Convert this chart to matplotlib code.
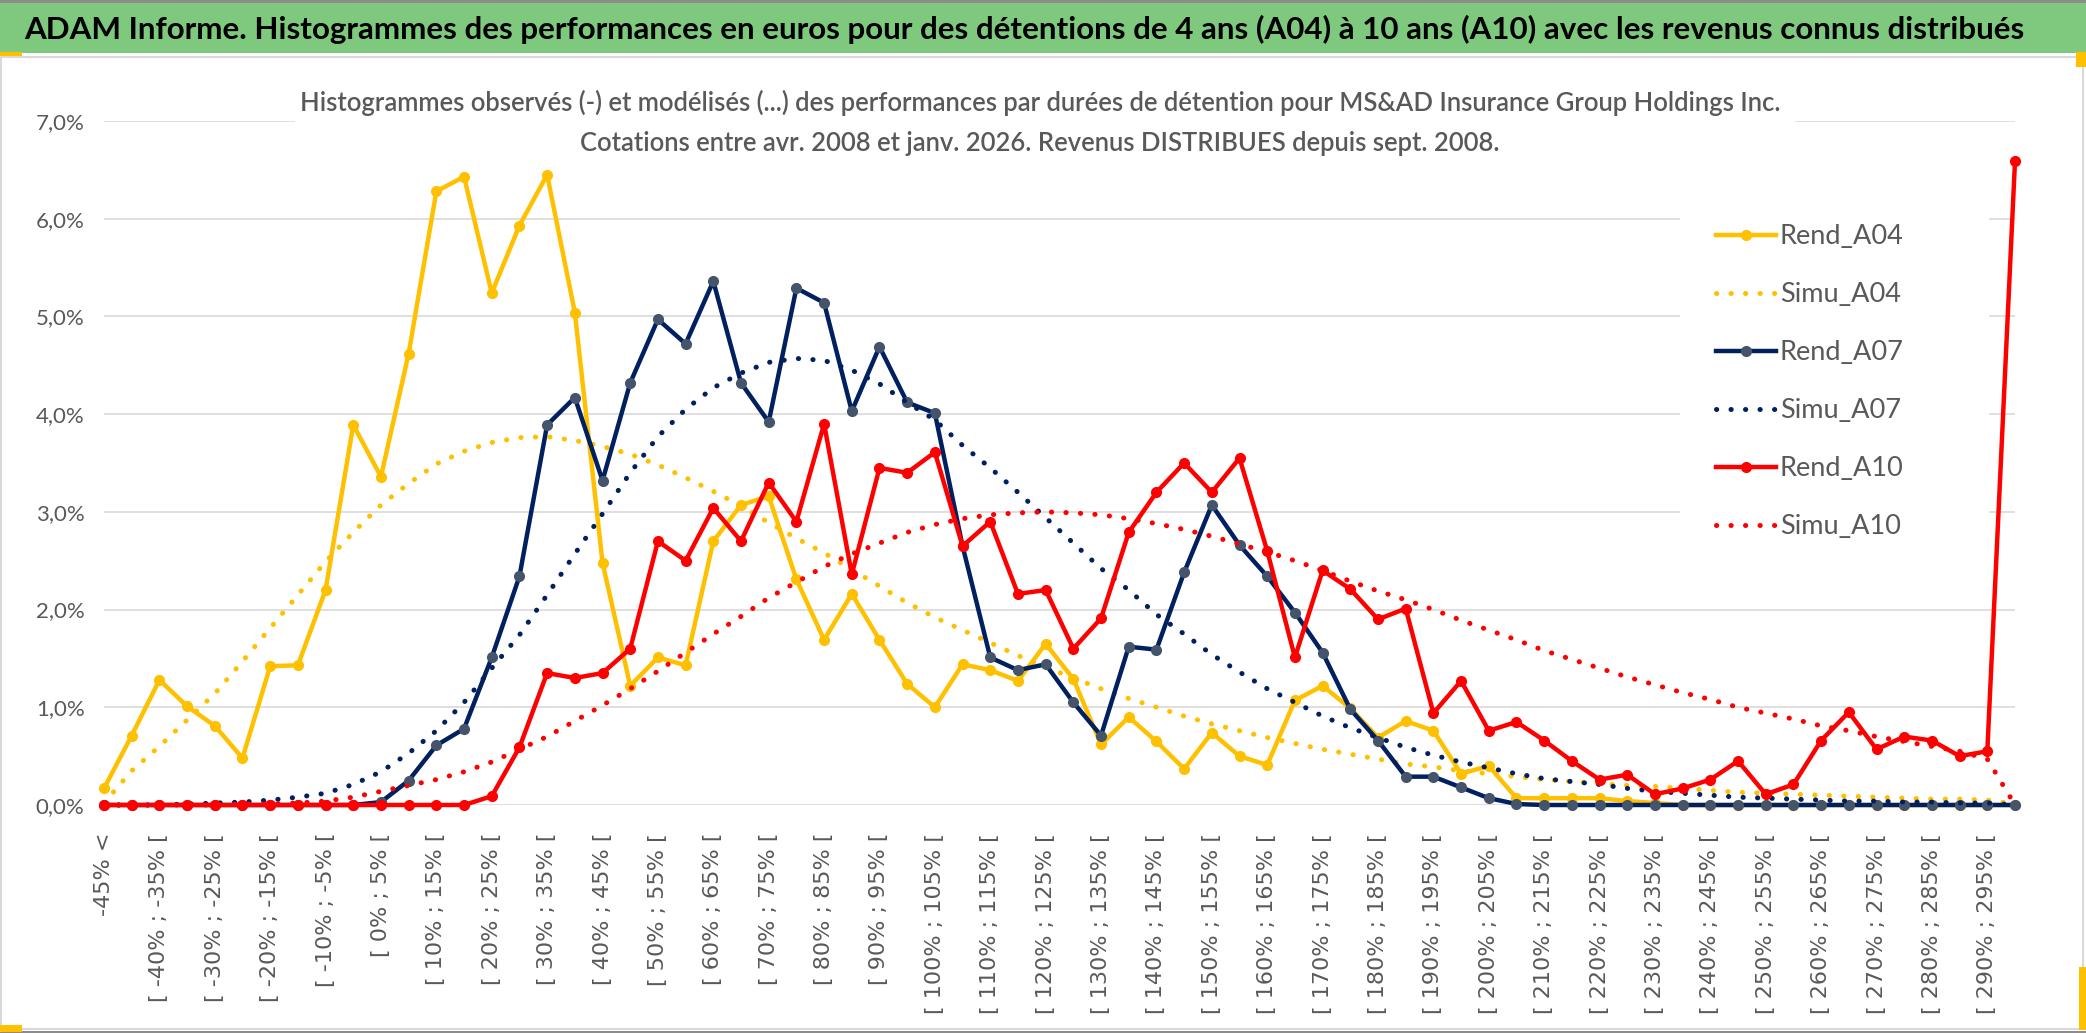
import numpy as np
import matplotlib
matplotlib.use('Agg')
import matplotlib.pyplot as plt
from matplotlib.patches import Rectangle

plt.rcParams['font.family'] = ['Lato', 'DejaVu Sans']

# categories : -45% < , [ -45% ; -40% [ ... [ 290% ; 295% [ , > 295%
bins_low = list(range(-45, 295, 5))
categories = ['-45% <'] + [f'[ {a}% ; {a + 5}% [' for a in bins_low] + ['> 295%']

# observed histograms (%)
rend_a04 = [0.17, 0.71, 1.28, 1.01, 0.81, 0.48, 1.42, 1.43, 2.20, 3.89,
            3.36, 4.62, 6.28, 6.43, 5.24, 5.93, 6.45, 5.04, 2.48, 1.22,
            1.51, 1.43, 2.70, 3.07, 3.16, 2.31, 1.69, 2.16, 1.69, 1.24,
            1.00, 1.44, 1.38, 1.27, 1.65, 1.29, 0.62, 0.90, 0.65, 0.37,
            0.74, 0.50, 0.41, 1.07, 1.22, 0.99, 0.69, 0.86, 0.76, 0.32,
            0.40, 0.07, 0.07, 0.07, 0.07, 0.04, 0.02, 0, 0, 0,
            0, 0, 0, 0, 0, 0, 0, 0, 0, 0]
rend_a07 = [0, 0, 0, 0, 0, 0, 0, 0, 0, 0,
            0.03, 0.25, 0.61, 0.78, 1.51, 2.34, 3.89, 4.17, 3.32, 4.32,
            4.97, 4.72, 5.36, 4.32, 3.92, 5.29, 5.14, 4.03, 4.69, 4.12,
            4.01, 2.65, 1.51, 1.38, 1.44, 1.05, 0.71, 1.62, 1.59, 2.38,
            3.07, 2.66, 2.34, 1.97, 1.56, 0.98, 0.66, 0.29, 0.29, 0.18,
            0.07, 0.01, 0, 0, 0, 0, 0, 0, 0, 0,
            0, 0, 0, 0, 0, 0, 0, 0, 0, 0]
rend_a10 = [0, 0, 0, 0, 0, 0, 0, 0, 0, 0,
            0, 0, 0, 0, 0.09, 0.59, 1.35, 1.30, 1.35, 1.60,
            2.70, 2.50, 3.04, 2.70, 3.30, 2.90, 3.90, 2.36, 3.45, 3.40,
            3.61, 2.65, 2.90, 2.16, 2.20, 1.60, 1.91, 2.79, 3.20, 3.50,
            3.20, 3.55, 2.60, 1.51, 2.40, 2.21, 1.90, 2.01, 0.94, 1.27,
            0.76, 0.85, 0.66, 0.45, 0.26, 0.31, 0.11, 0.17, 0.26, 0.45,
            0.11, 0.21, 0.66, 0.95, 0.57, 0.70, 0.66, 0.50, 0.55, 6.59]

# modelled histograms (%)
simu_a04 = [0.02, 0.35, 0.60, 0.87, 1.14, 1.47, 1.81, 2.15, 2.49, 2.79,
            3.07, 3.29, 3.49, 3.62, 3.71, 3.76, 3.77, 3.73, 3.67, 3.59,
            3.48, 3.35, 3.21, 3.06, 2.89, 2.73, 2.58, 2.41, 2.24, 2.07,
            1.92, 1.79, 1.66, 1.53, 1.41, 1.30, 1.19, 1.09, 1.00, 0.91,
            0.83, 0.76, 0.69, 0.63, 0.57, 0.52, 0.47, 0.42, 0.39, 0.35,
            0.32, 0.29, 0.26, 0.24, 0.22, 0.20, 0.19, 0.17, 0.15, 0.13,
            0.12, 0.11, 0.10, 0.09, 0.08, 0.07, 0.06, 0.06, 0.05, 0.01]
simu_a07 = [0, 0, 0, 0.01, 0.02, 0.03, 0.05, 0.08, 0.12, 0.21,
            0.34, 0.53, 0.76, 1.05, 1.40, 1.74, 2.15, 2.57, 2.98, 3.40,
            3.77, 4.05, 4.27, 4.42, 4.53, 4.57, 4.55, 4.45, 4.31, 4.12,
            3.94, 3.68, 3.45, 3.20, 2.94, 2.68, 2.42, 2.20, 1.95, 1.75,
            1.54, 1.36, 1.19, 1.05, 0.91, 0.79, 0.69, 0.59, 0.51, 0.44,
            0.38, 0.32, 0.27, 0.24, 0.21, 0.17, 0.14, 0.12, 0.10, 0.08,
            0.07, 0.06, 0.05, 0.04, 0.04, 0.03, 0.03, 0.02, 0.02, 0]
simu_a10 = [0, 0, 0, 0, 0, 0.01, 0.01, 0.02, 0.04, 0.08,
            0.14, 0.20, 0.26, 0.34, 0.44, 0.57, 0.70, 0.86, 1.02, 1.19,
            1.37, 1.56, 1.75, 1.93, 2.12, 2.28, 2.44, 2.57, 2.68, 2.79,
            2.87, 2.93, 2.97, 2.99, 3.00, 2.99, 2.97, 2.93, 2.88, 2.82,
            2.75, 2.67, 2.59, 2.50, 2.40, 2.29, 2.19, 2.10, 2.00, 1.89,
            1.79, 1.69, 1.58, 1.49, 1.40, 1.31, 1.23, 1.15, 1.08, 1.00,
            0.94, 0.88, 0.81, 0.76, 0.70, 0.65, 0.60, 0.55, 0.47, 0]

title = ("ADAM Informe. Histogrammes des performances en euros pour des détentions "
         "de 4 ans (A04) à 10 ans (A10) avec les revenus connus distribués")
sub1 = ("Histogrammes observés (-) et modélisés (...) des performances par durées "
        "de détention pour MS&AD Insurance Group Holdings Inc.")
sub2 = "Cotations entre avr. 2008 et janv. 2026. Revenus DISTRIBUES depuis sept. 2008."

YEL = '#FFC000'
NAVY = '#002060'
RED = '#FF0000'
GRID = '#D9D9D9'
TXT = '#595959'

W, H = 2086, 1033
fig = plt.figure(figsize=(W / 100, H / 100), dpi=100)
fig.patch.set_facecolor('white')


def fx(px):
    return px / W


def fy(py):
    return 1 - py / H


# frame, green title band, little handles
fig.patches.append(Rectangle((fx(1), fy(1029)), fx(2082), 972 / H, transform=fig.transFigure,
                             fill=False, ec=GRID, lw=1.5))
fig.patches.append(Rectangle((0, fy(3)), 1, 3 / H, transform=fig.transFigure, fc='#8c8c8c', ec='none'))
fig.patches.append(Rectangle((0, fy(53)), 1, 50 / H, transform=fig.transFigure, fc='#7FC97F', ec='none'))
fig.patches.append(Rectangle((0, fy(1033)), 1, 2 / H, transform=fig.transFigure, fc='#8c8c8c', ec='none'))
for (x0, y0, w, h) in [(0, 52, 22, 4), (2076, 52, 10, 15), (0, 1025, 22, 7), (2079, 967, 7, 63)]:
    fig.patches.append(Rectangle((fx(x0), fy(y0 + h)), w / W, h / H, transform=fig.transFigure,
                                 fc=YEL, ec='none'))

ax = fig.add_axes([fx(104), fy(805), fx(2015) - fx(104), fy(121) - fy(805)])
x = np.arange(len(categories))

dot = (0, (0.05, 2.85))
ax.plot(x, rend_a04, color=YEL, lw=3.2, marker='o', ms=7, mfc=YEL, mec=YEL,
        clip_on=False, zorder=3, label='Rend_A04')
ax.plot(x, simu_a04, color=YEL, lw=3.6, ls=dot, dash_capstyle='round',
        clip_on=False, zorder=3, label='Simu_A04')
ax.plot(x, rend_a07, color=NAVY, lw=3.2, marker='o', ms=7, mfc='#44546A', mec='#44546A',
        clip_on=False, zorder=3, label='Rend_A07')
ax.plot(x, simu_a07, color=NAVY, lw=3.6, ls=dot, dash_capstyle='round',
        clip_on=False, zorder=3, label='Simu_A07')
ax.plot(x, rend_a10, color=RED, lw=3.2, marker='o', ms=7, mfc=RED, mec=RED,
        clip_on=False, zorder=3, label='Rend_A10')
ax.plot(x, simu_a10, color=RED, lw=3.6, ls=dot, dash_capstyle='round',
        clip_on=False, zorder=3, label='Simu_A10')

ax.set_xlim(0, len(categories) - 1)
ax.set_ylim(0, 7)
ax.set_yticks(np.arange(0, 8, 1))
ax.set_yticklabels([f'{v:.1f}%'.replace('.', ',') for v in np.arange(0, 8, 1)])
ax.set_xticks(x[::2])
ax.set_xticklabels(categories[::2])
ax.set_xticks(np.arange(0, len(categories), 4), minor=True)

for s in ax.spines.values():
    s.set_visible(False)
ax.set_axisbelow(True)
ax.yaxis.grid(True, color=GRID, lw=1.2)
ax.xaxis.grid(True, which='minor', color=GRID, lw=1.2)
ax.xaxis.grid(False, which='major')
ax.tick_params(axis='x', which='major', length=0, pad=20, labelsize=16,
               labelcolor=TXT, labelrotation=90)
ax.tick_params(axis='x', which='minor', length=6, width=1.2, color=GRID)
ax.tick_params(axis='y', length=0, pad=14, labelsize=16, labelcolor=TXT)
for lbl in ax.get_xticklabels():
    lbl.set_fontfamily('DejaVu Sans')

# white area behind the legend
ax.add_patch(Rectangle((56.9, 2.59), 11.15, 3.53, fc='white', ec='none', zorder=1))
ax.legend(loc='upper left', bbox_to_anchor=(fx(1716), fy(224)), bbox_transform=fig.transFigure,
          frameon=False, fontsize=19.5, handlelength=2.2, handletextpad=0.15,
          labelspacing=1.22, borderpad=0, borderaxespad=0, numpoints=1, labelcolor=TXT)

# titles
fig.patches.append(Rectangle((fx(295), fy(168)), 1500 / W, 100 / H, transform=fig.transFigure,
                             fc='white', ec='none', zorder=2))
t0 = fig.text(fx(24), fy(29), title, ha='left', va='center', fontsize=20,
              fontweight='bold', color='black', zorder=3)
t1 = fig.text(fx(1040), fy(103), sub1, ha='center', va='center', fontsize=18,
              fontweight='semibold', color=TXT, zorder=3)
t2 = fig.text(fx(1040), fy(143), sub2, ha='center', va='center', fontsize=18,
              fontweight='semibold', color=TXT, zorder=3)

fig.canvas.draw()
r = fig.canvas.get_renderer()


def fit(t, target):
    w = t.get_window_extent(r).width
    t.set_fontsize(t.get_fontsize() * target / w)


fit(t0, 2005)
fit(t1, 1480)
t2.set_fontsize(t1.get_fontsize())

fig.savefig('out.png', dpi=100)
